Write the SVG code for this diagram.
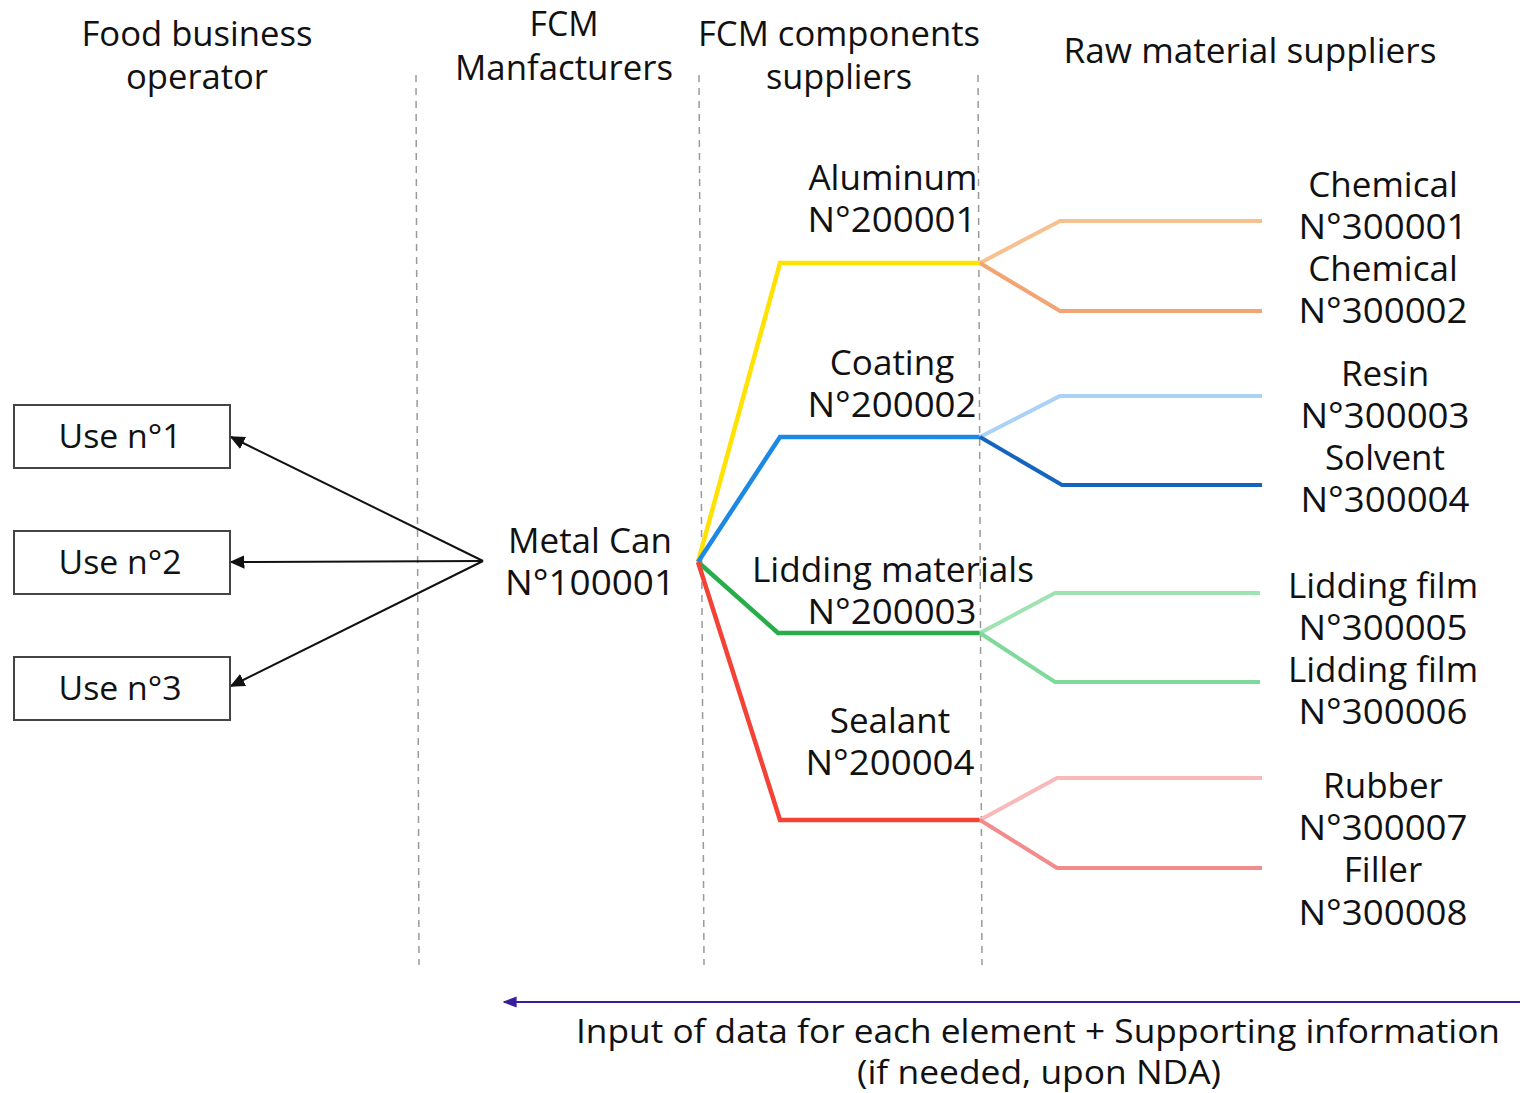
<svg xmlns="http://www.w3.org/2000/svg" width="1520" height="1093" viewBox="0 0 1520 1093">
  <style>
    text { font-family: "Open Sans", "Noto Sans", "DejaVu Sans", sans-serif; fill: #111; text-anchor: middle; }
    .hdr { font-size: 34px; }
    .lbl { font-size: 35px; }
    .use { font-size: 33px; }
    .foot { font-size: 33px; }
    .divider { stroke: #9a9a9a; stroke-width: 1.5; stroke-dasharray: 7 6; fill: none; }
    .box { fill: #fff; stroke: #444; stroke-width: 2; }
    .arrow { stroke: #111; stroke-width: 2; fill: none; marker-end: url(#head); }
    .branch { fill: none; stroke-width: 4.5; stroke-linejoin: miter; }
    .leaf { fill: none; stroke-width: 4; }
  </style>
  <defs>
    <marker id="head" viewBox="0 0 10 10" refX="9" refY="5" markerWidth="15" markerHeight="15" markerUnits="userSpaceOnUse" orient="auto">
      <path d="M0,0.5 L10,5 L0,9.5 z" fill="#111"/>
    </marker>
    <marker id="headBlue" viewBox="0 0 10 10" refX="9" refY="5" markerWidth="14" markerHeight="14" markerUnits="userSpaceOnUse" orient="auto">
      <path d="M0,1 L10,5 L0,9 z" fill="#3a1d9e"/>
    </marker>
  </defs>

  <rect width="1520" height="1093" fill="#fff"/>

  <!-- column headers -->
  <g id="headers">
    <text class="hdr" x="197" y="46" textLength="231" lengthAdjust="spacingAndGlyphs">Food business</text>
    <text class="hdr" x="197" y="89" textLength="142" lengthAdjust="spacingAndGlyphs">operator</text>
    <text class="hdr" x="564" y="36" textLength="69" lengthAdjust="spacingAndGlyphs">FCM</text>
    <text class="hdr" x="564" y="80" textLength="218" lengthAdjust="spacingAndGlyphs">Manfacturers</text>
    <text class="hdr" x="839" y="46" textLength="282" lengthAdjust="spacingAndGlyphs">FCM components</text>
    <text class="hdr" x="839" y="89" textLength="146" lengthAdjust="spacingAndGlyphs">suppliers</text>
    <text class="hdr" x="1250" y="63" textLength="373" lengthAdjust="spacingAndGlyphs">Raw material suppliers</text>
  </g>

  <!-- column dividers -->
  <g id="dividers">
    <line class="divider" x1="416" y1="75" x2="419" y2="965"/>
    <line class="divider" x1="699" y1="75" x2="704" y2="965"/>
    <line class="divider" x1="978" y1="75" x2="982" y2="965"/>
  </g>

  <!-- connectors -->
  <g id="connectors">
    <line class="arrow" x1="483" y1="561" x2="231" y2="437"/>
    <line class="arrow" x1="483" y1="561" x2="231" y2="562"/>
    <line class="arrow" x1="483" y1="561" x2="231" y2="686"/>

    <polyline class="branch" stroke="#ffe200" points="698,562 780,263 980,263"/>
    <polyline class="branch" stroke="#1e88e5" points="698,562 780,437 980,437"/>
    <polyline class="branch" stroke="#27ad4a" points="698,562 778,633 980,633"/>
    <polyline class="branch" stroke="#f44336" points="698,562 780,820 980,820"/>

    <polyline class="leaf" stroke="#f7c08f" points="980,263 1060,221 1262,221"/>
    <polyline class="leaf" stroke="#f2a572" points="980,263 1060,311 1262,311"/>
    <polyline class="leaf" stroke="#a9d2f6" points="980,437 1060,396 1262,396"/>
    <polyline class="leaf" stroke="#1565c0" points="980,437 1062,485 1262,485"/>
    <polyline class="leaf" stroke="#9fe3b3" points="980,633 1055,593 1260,593"/>
    <polyline class="leaf" stroke="#7ed99b" points="980,633 1055,682 1260,682"/>
    <polyline class="leaf" stroke="#f9b9b9" points="980,820 1057,778 1262,778"/>
    <polyline class="leaf" stroke="#f28c8c" points="980,820 1057,868 1262,868"/>

    <line x1="1520" y1="1002" x2="504" y2="1002" stroke="#3a1d9e" stroke-width="2" marker-end="url(#headBlue)"/>
  </g>

  <!-- food business operator uses -->
  <g id="use1">
    <rect class="box" x="14" y="405" width="216" height="63"/>
    <text class="use" x="120" y="448" textLength="123" lengthAdjust="spacingAndGlyphs">Use n°1</text>
  </g>
  <g id="use2">
    <rect class="box" x="14" y="531" width="216" height="63"/>
    <text class="use" x="120" y="574" textLength="123" lengthAdjust="spacingAndGlyphs">Use n°2</text>
  </g>
  <g id="use3">
    <rect class="box" x="14" y="657" width="216" height="63"/>
    <text class="use" x="120" y="700" textLength="123" lengthAdjust="spacingAndGlyphs">Use n°3</text>
  </g>

  <!-- FCM manufacturer -->
  <g id="metal-can">
    <text class="lbl" x="590" y="553">Metal Can</text>
    <text class="lbl" x="590" y="595" textLength="170" lengthAdjust="spacingAndGlyphs">N°100001</text>
  </g>

  <!-- component suppliers -->
  <g id="aluminum">
    <text class="lbl" x="893" y="190">Aluminum</text>
    <text class="lbl" x="892" y="232" textLength="169" lengthAdjust="spacingAndGlyphs">N°200001</text>
  </g>
  <g id="coating">
    <text class="lbl" x="892" y="375">Coating</text>
    <text class="lbl" x="892" y="417" textLength="169" lengthAdjust="spacingAndGlyphs">N°200002</text>
  </g>
  <g id="lidding-materials">
    <text class="lbl" x="893" y="582" textLength="282" lengthAdjust="spacingAndGlyphs">Lidding materials</text>
    <text class="lbl" x="892" y="624" textLength="169" lengthAdjust="spacingAndGlyphs">N°200003</text>
  </g>
  <g id="sealant">
    <text class="lbl" x="890" y="733">Sealant</text>
    <text class="lbl" x="890" y="775" textLength="169" lengthAdjust="spacingAndGlyphs">N°200004</text>
  </g>

  <!-- raw material suppliers -->
  <g id="chemical-1">
    <text class="lbl" x="1383" y="197">Chemical</text>
    <text class="lbl" x="1383" y="239" textLength="169" lengthAdjust="spacingAndGlyphs">N°300001</text>
  </g>
  <g id="chemical-2">
    <text class="lbl" x="1383" y="281">Chemical</text>
    <text class="lbl" x="1383" y="323" textLength="169" lengthAdjust="spacingAndGlyphs">N°300002</text>
  </g>
  <g id="resin">
    <text class="lbl" x="1385" y="386">Resin</text>
    <text class="lbl" x="1385" y="428" textLength="169" lengthAdjust="spacingAndGlyphs">N°300003</text>
  </g>
  <g id="solvent">
    <text class="lbl" x="1385" y="470">Solvent</text>
    <text class="lbl" x="1385" y="512" textLength="169" lengthAdjust="spacingAndGlyphs">N°300004</text>
  </g>
  <g id="lidding-film-1">
    <text class="lbl" x="1383" y="598">Lidding film</text>
    <text class="lbl" x="1383" y="640" textLength="169" lengthAdjust="spacingAndGlyphs">N°300005</text>
  </g>
  <g id="lidding-film-2">
    <text class="lbl" x="1383" y="682">Lidding film</text>
    <text class="lbl" x="1383" y="724" textLength="169" lengthAdjust="spacingAndGlyphs">N°300006</text>
  </g>
  <g id="rubber">
    <text class="lbl" x="1383" y="798">Rubber</text>
    <text class="lbl" x="1383" y="840" textLength="169" lengthAdjust="spacingAndGlyphs">N°300007</text>
  </g>
  <g id="filler">
    <text class="lbl" x="1383" y="882">Filler</text>
    <text class="lbl" x="1383" y="925" textLength="169" lengthAdjust="spacingAndGlyphs">N°300008</text>
  </g>

  <!-- data flow note -->
  <g id="data-note">
    <text class="foot" x="1038" y="1043" textLength="924" lengthAdjust="spacingAndGlyphs">Input of data for each element + Supporting information</text>
    <text class="foot" x="1039" y="1084" textLength="364" lengthAdjust="spacingAndGlyphs">(if needed, upon NDA)</text>
  </g>
</svg>
